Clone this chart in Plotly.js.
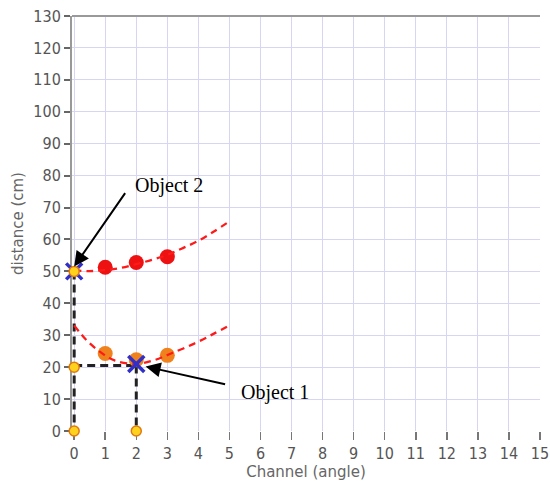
<!DOCTYPE html>
<html>
<head>
<meta charset="utf-8">
<script src="https://cdn.plot.ly/plotly-3.0.1.min.js"></script>
<style>html,body{margin:0;padding:0;background:#fff;}#chart{width:550px;height:485px;}</style>
</head>
<body>
<div id="chart"></div>
<script>
// ---- data ----
const xTicks = [0,1,2,3,4,5,6,7,8,9,10,11,12,13,14,15];
const yTicks = [0,10,20,30,40,50,60,70,80,90,100,110,120,130];

// Object 2 readings (red) and its fitted dashed curve
const redX = [1, 2, 3];
const redY = [51.3, 52.8, 54.6];
const redCurveX = [0, 0.5, 1, 1.5, 2, 2.5, 3, 3.5, 4, 4.5, 5];
const redCurveY = [50.3, 50.1, 50.4, 51.1, 52.3, 53.6, 55.2, 57.3, 59.6, 62.5, 65.7];

// Object 1 readings (orange) and its fitted dashed curve
const orangeX = [1, 2, 3];
const orangeY = [24.3, 22.3, 23.7];
const orangeCurveX = [0, 0.4, 0.85, 1.3, 2, 2.55, 3.1, 3.85, 4.5, 5];
const orangeCurveY = [33.1, 28.4, 24.7, 22.1, 21.0, 22.1, 24.2, 27.3, 30.5, 33.1];

// detected objects (blue X)
const objX = [0, 2];
const objY = [50, 21];

// projection guide points (yellow)
const projX = [0, 2, 0, 0];
const projY = [0, 0, 20, 50];

// black dashed guide lines
const guideVX1 = [0, 0];   const guideVY1 = [50, 0];
const guideHX  = [0, 2];   const guideHY  = [20.5, 20.5];
const guideVX2 = [2, 2];   const guideVY2 = [20.5, 0];

const labels = ["Object 2", "Object 1"];

const guideLine = {color:'#222', width:3, dash:'8px,5px'};
const traces = [
  {x:guideVX1, y:guideVY1, mode:'lines', line:guideLine, cliponaxis:false},
  {x:guideHX,  y:guideHY,  mode:'lines', line:guideLine, cliponaxis:false},
  {x:guideVX2, y:guideVY2, mode:'lines', line:guideLine, cliponaxis:false},
  {x:redX, y:redY, mode:'markers', marker:{color:'#ee1111', size:15, line:{width:0}}, cliponaxis:false},
  {x:orangeX, y:orangeY, mode:'markers', marker:{color:'#f0821e', size:15, line:{width:0}}, cliponaxis:false},
  {x:redCurveX, y:redCurveY, mode:'lines', line:{color:'#ff1a1a', width:2.3, dash:'7px,5px', shape:'spline'}, cliponaxis:false},
  {x:orangeCurveX, y:orangeCurveY, mode:'lines', line:{color:'#ff1a1a', width:2.3, dash:'7px,5px', shape:'spline'}, cliponaxis:false},
  {x:objX, y:objY, mode:'markers', marker:{symbol:'x-thin', size:16, color:'#3030c8', line:{width:3.5, color:'#3030c8'}}, cliponaxis:false},
  {x:projX, y:projY, mode:'markers', marker:{color:'#ffd21e', size:10, line:{width:1.5, color:'#e07a10'}}, cliponaxis:false}
];

const tickFont = {family:'DejaVu Sans Condensed, DejaVu Sans, sans-serif', size:16, color:'#555'};
const layout = {
  width:550, height:485,
  margin:{l:72, r:10, t:16, b:54},
  paper_bgcolor:'#fff', plot_bgcolor:'#fff',
  showlegend:false,
  xaxis:{
    range:[-0.07,15], tickvals:xTicks, ticktext:xTicks.map(String),
    showgrid:true, gridcolor:'#d6d6f4', gridwidth:1,
    zeroline:false, showline:false, layer:'below traces',
    ticks:'outside', ticklen:8, tickwidth:1.5, tickcolor:'#777',
    tickfont:tickFont,
    title:{text:'Channel (angle)', font:{family:'DejaVu Sans, sans-serif', size:15, color:'#666'}, standoff:4}
  },
  yaxis:{
    range:[0,130], tickvals:yTicks, ticktext:yTicks.map(String),
    showgrid:true, gridcolor:'#d6d6f4', gridwidth:1,
    zeroline:false, showline:true, linecolor:'#999', linewidth:2, layer:'below traces',
    ticks:'outside', ticklen:6, tickwidth:2, tickcolor:'#666',
    tickfont:tickFont,
    title:{text:'distance (cm)', font:{family:'DejaVu Sans, sans-serif', size:15, color:'#666'}, standoff:6}
  },
  shapes:[
    {type:'line', xref:'paper', yref:'paper', x0:0, x1:1, y0:1, y1:1, line:{color:'#999', width:2}}
  ],
  annotations:[
    {x:1.9, y:77, xref:'x', yref:'y', text:labels[0], showarrow:false, xanchor:'left', yanchor:'middle',
     font:{family:'Liberation Serif, serif', size:20, color:'#000'}},
    {x:0, y:51.5, xref:'x', yref:'y', text:'', showarrow:true, arrowhead:2, arrowsize:1.5, arrowwidth:2,
     arrowcolor:'#000', ax:52, ay:-75},
    {x:5.3, y:12, xref:'x', yref:'y', text:labels[1], showarrow:false, xanchor:'left', yanchor:'middle',
     font:{family:'Liberation Serif, serif', size:20, color:'#000'}},
    {x:2.3, y:20.2, xref:'x', yref:'y', text:'', showarrow:true, arrowhead:2, arrowsize:1.5, arrowwidth:2,
     arrowcolor:'#000', ax:81, ay:18}
  ]
};

Plotly.newPlot('chart', traces, layout, {displayModeBar:false, staticPlot:true});
</script>
</body>
</html>
